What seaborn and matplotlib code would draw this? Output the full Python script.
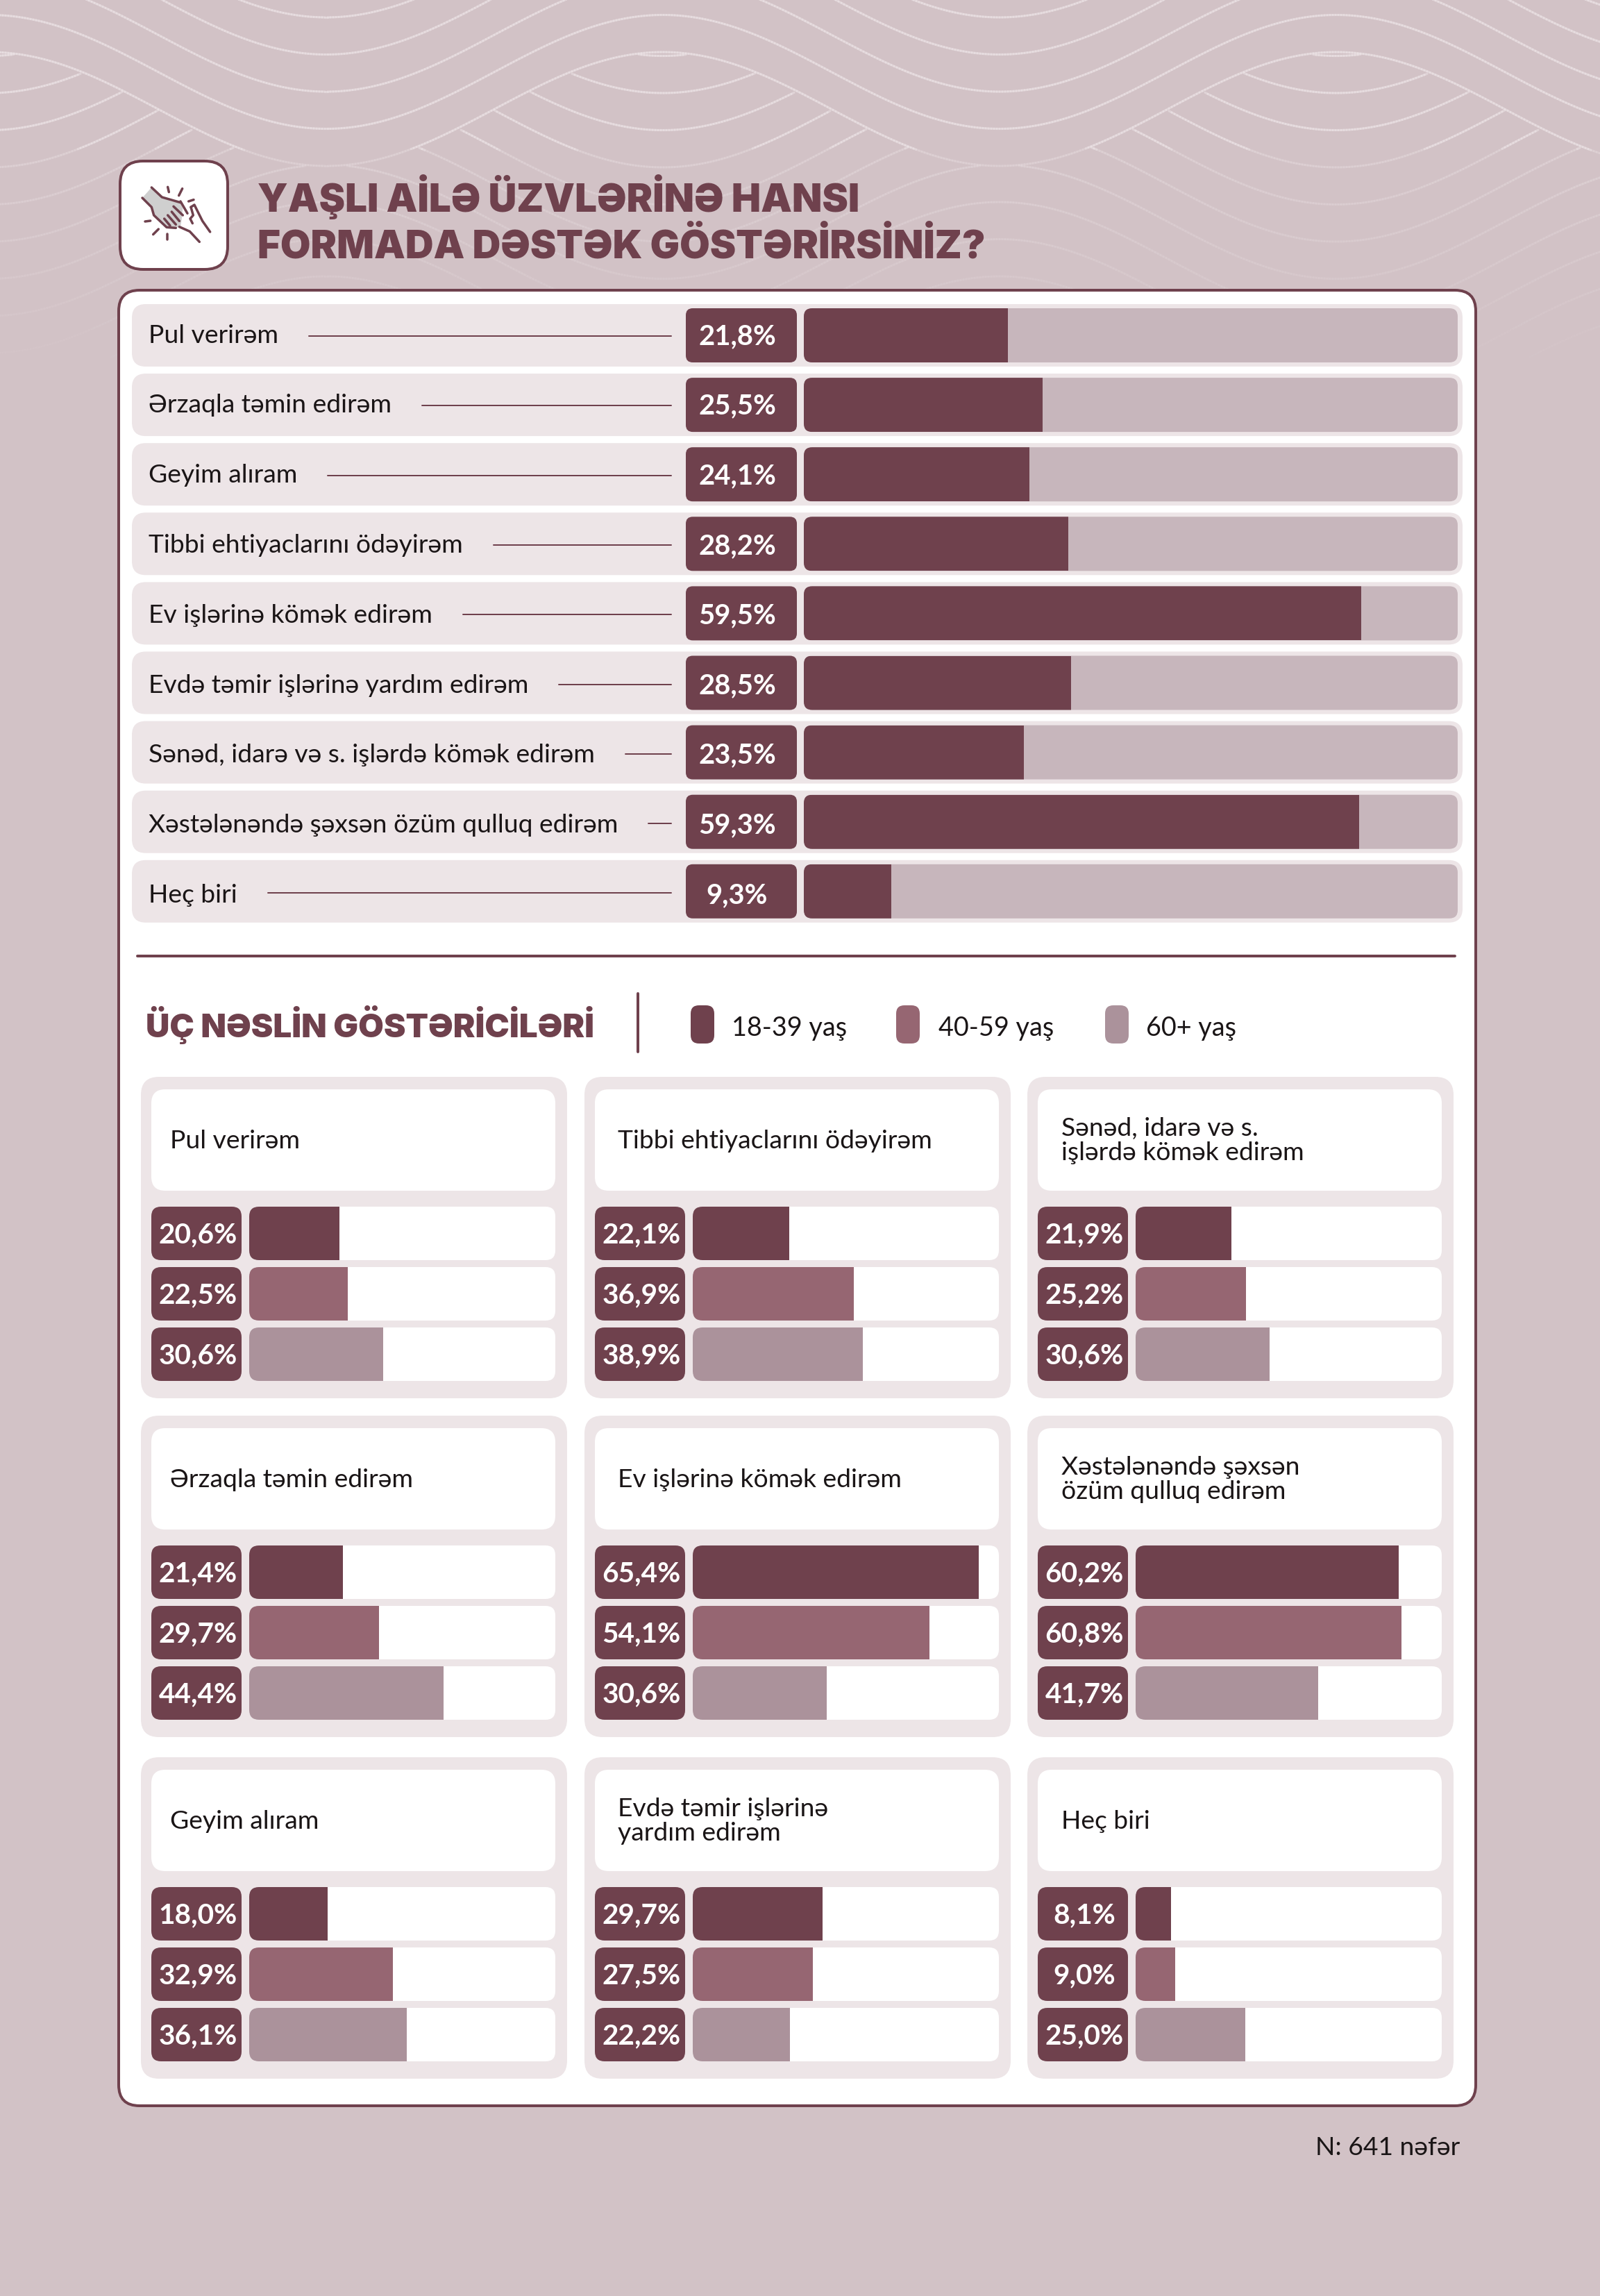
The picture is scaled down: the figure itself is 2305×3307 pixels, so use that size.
import numpy as np
import pandas as pd
import matplotlib
matplotlib.use('Agg')
import matplotlib.pyplot as plt
import seaborn as sns
from matplotlib.collections import LineCollection
from matplotlib.patches import FancyBboxPatch, Polygon

# ============================================================
# DATA
# ============================================================

main_labels = ['Pul verirəm', 'Ərzaqla təmin edirəm', 'Geyim alıram', 'Tibbi ehtiyaclarını ödəyirəm',
               'Ev işlərinə kömək edirəm', 'Evdə təmir işlərinə yardım edirəm',
               'Sənəd, idarə və s. işlərdə kömək edirəm', 'Xəstələnəndə şəxsən özüm qulluq edirəm', 'Heç biri']
main_values = [21.8, 25.5, 24.1, 28.2, 59.5, 28.5, 23.5, 59.3, 9.3]

age_groups = ['18-39 yaş', '40-59 yaş', '60+ yaş']
panel_titles = ['Pul verirəm', 'Tibbi ehtiyaclarını ödəyirəm', 'Sənəd, idarə və s.\nişlərdə kömək edirəm',
                'Ərzaqla təmin edirəm', 'Ev işlərinə kömək edirəm', 'Xəstələnəndə şəxsən\nözüm qulluq edirəm',
                'Geyim alıram', 'Evdə təmir işlərinə\nyardım edirəm', 'Heç biri']
values_18_39 = [20.6, 22.1, 21.9, 21.4, 65.4, 60.2, 18.0, 29.7, 8.1]
values_40_59 = [22.5, 36.9, 25.2, 29.7, 54.1, 60.8, 32.9, 27.5, 9.0]
values_60 = [30.6, 38.9, 30.6, 44.4, 30.6, 41.7, 36.1, 22.2, 25.0]

# ============================================================
# STYLE
# ============================================================

W, H, DPI = 2305, 3307, 200
BG = '#D2C2C6'
DARK = '#6F414D'
MID = '#966672'
LIGHT = '#AB929B'
ROW = '#EDE5E7'
TRACK = '#C7B6BC'
INK = '#1A1516'

sns.set_theme(style='white')
plt.rcParams['font.family'] = ['Lato', 'DejaVu Sans']

def pt(px):
    return px * 72 / DPI

fig = plt.figure(figsize=(W / DPI, H / DPI), dpi=DPI, facecolor=BG)
bg = fig.add_axes([0, 0, 1, 1], zorder=0)
bg.set_xlim(0, W)
bg.set_ylim(H, 0)
bg.axis('off')

def box(x0, y0, x1, y1, r, fc, ec='none', lw=0, z=2):
    p = FancyBboxPatch((x0, y0), x1 - x0, y1 - y0, boxstyle=f'round,pad=0,rounding_size={r}',
                       fc=fc, ec=ec, lw=pt(lw), zorder=z, transform=bg.transData)
    bg.add_patch(p)
    return p

def bar_axes(x0, y0, x1, y1):
    ax = fig.add_axes([x0 / W, 1 - y1 / H, (x1 - x0) / W, (y1 - y0) / H], zorder=1)
    ax.patch.set_alpha(0)
    return ax

def pct(v):
    return f'{v:.1f}'.replace('.', ',') + '%'

# ============================================================
# WAVE BACKGROUND
# ============================================================

xs = np.arange(-40, W + 40, 4.0)
P, X0, A, PITCH = 970, 955, 82, 53.5
wave = np.cos(2 * np.pi * (xs - X0) / P)
w0 = 75 + A - A * wave  # boundary wave, peaks at X0

def add_wave(ys):
    pts = np.column_stack([xs, ys]).reshape(-1, 1, 2)
    segs = np.concatenate([pts[:-1], pts[1:]], axis=1)
    segs = segs[~np.isnan(segs).any(axis=(1, 2))]
    if len(segs) == 0:
        return
    y = segs[:, 0, 1]
    fade = np.where(y < 215, 0.42, 0.2 * np.clip((560 - y) / 345, 0, 1))
    colors = np.tile(matplotlib.colors.to_rgba('#F3ECEE'), (len(segs), 1))
    colors[:, 3] = fade
    bg.add_collection(LineCollection(segs, colors=colors, linewidths=pt(3.2), zorder=1, capstyle='round'))

add_wave(w0)
for k in range(1, 10):
    add_wave(w0 - k * PITCH)
for k in range(-10, 14):
    ys = 134 - 164 + k * PITCH + A + A * wave
    add_wave(np.where(ys > w0 + 1, ys, np.nan))

# ============================================================
# HEADER
# ============================================================

box(173, 232, 328, 388, 33, 'white', DARK, 4, z=3)

def icon_xy(pts):
    return [(160 + u / 3, 220 + v / 3) for u, v in pts]

bg.add_patch(Polygon(icon_xy([(135, 195), (175, 150), (215, 190), (260, 210), (300, 215), (310, 240), (305, 290),
                              (300, 320), (270, 325), (240, 320), (190, 280), (175, 240)]),
                     fc='#CFCFCF', ec='none', zorder=4))
icon_lines = [
    [(135, 195), (175, 235), (185, 270), (240, 322), (280, 325)],
    [(175, 150), (220, 192), (265, 205), (300, 215)],
    [(300, 210), (330, 262)], [(230, 285), (255, 315)], [(245, 270), (280, 310)],
    [(262, 255), (295, 295)], [(270, 232), (310, 270)],
    [(345, 235), (360, 225), (395, 295), (428, 342)], [(345, 235), (355, 270), (342, 285), (352, 305)],
    [(295, 320), (340, 340), (382, 385)],
    [(245, 148), (250, 170)], [(308, 155), (293, 185)], [(335, 210), (357, 203)],
    [(147, 297), (170, 294)], [(182, 353), (205, 330)], [(242, 352), (242, 375)],
]
for line in icon_lines:
    lx, ly = zip(*icon_xy(line))
    bg.plot(lx, ly, color=DARK, lw=pt(3.5), zorder=5, solid_capstyle='round', solid_joinstyle='round')

bg.text(371, 305, 'YAŞLI AİLƏ ÜZVLƏRİNƏ HANSI', color=DARK, fontsize=20.3, family=['Inter', 'DejaVu Sans'],
        fontweight=900, zorder=3)
bg.text(371, 371, 'FORMADA DƏSTƏK GÖSTƏRİRSİNİZ?', color=DARK, fontsize=20.3, family=['Inter', 'DejaVu Sans'],
        fontweight=900, zorder=3)

# ============================================================
# MAIN PANEL
# ============================================================

box(171, 418, 2126, 3033, 30, 'white', DARK, 4, z=2)

PITCH_ROW = 100.1
label_texts = []
main_tracks = []
for i, (label, value) in enumerate(zip(main_labels, main_values)):
    top = 438 + i * PITCH_ROW
    box(190, top, 2107, top + 90, 20, ROW, z=3)
    box(988, top + 6, 1148, top + 84, 10, DARK, z=4)
    main_tracks.append(box(1158, top + 6, 2100, top + 84, 12, TRACK, z=4))
    label_texts.append(bg.text(214, top + 55.5 + i * 0.7, label, color=INK, fontsize=13.4, fontweight=400, zorder=5))
    bg.text(1062, top + 58 + i * 0.5, pct(value), color='white', fontsize=14.4, fontweight=700, ha='center', zorder=5)

fig.canvas.draw()
renderer = fig.canvas.get_renderer()
for i, t in enumerate(label_texts):
    end = bg.transData.inverted().transform(t.get_window_extent(renderer).get_points())[1, 0]
    y = 438 + i * PITCH_ROW + 46 + i * 0.2
    bg.plot([end + 44, 967], [y, y], color=DARK, lw=pt(2), zorder=5)

main_ax = bar_axes(1158, 432.95, 2100, 432.95 + 9 * PITCH_ROW)
main_df = pd.DataFrame({'label': main_labels, 'value': main_values})
sns.barplot(data=main_df, x='value', y='label', color=DARK, saturation=1, width=78 / PITCH_ROW, linewidth=0, ax=main_ax)
main_ax.set_xlim(0, 69.8)
main_ax.axis('off')
for bar, track in zip(main_ax.patches, main_tracks):
    bar.set_clip_path(track)

# ============================================================
# GENERATIONS SECTION
# ============================================================

bg.plot([198, 2096], [1377, 1377], color=DARK, lw=pt(4), zorder=3)
bg.text(210, 1494, 'ÜÇ NƏSLİN GÖSTƏRİCİLƏRİ', color=DARK, fontsize=17.1, family=['Inter', 'DejaVu Sans'],
        fontweight=900, zorder=3)
bg.plot([919, 919], [1431, 1515], color=DARK, lw=pt(4), zorder=3)

palette = dict(zip(age_groups, [DARK, MID, LIGHT]))
legend_x = [(995, 1054), (1291, 1352), (1592, 1651)]
for name, (sx, tx) in zip(age_groups, legend_x):
    box(sx, 1448, sx + 34, 1503, 12, palette[name], z=3)
    bg.text(tx, 1492, name, color=INK, fontsize=13.6, fontweight=400, zorder=3)

col_x = [203, 842, 1480]
text_x = [245, 890, 1529]
row_y = [1551, 2039, 2531]
for n, title in enumerate(panel_titles):
    c, r = n % 3, n // 3
    x0, y0 = col_x[c], row_y[r]
    box(x0, y0, x0 + 614, y0 + 463, 26, ROW, z=3)
    box(x0 + 15, y0 + 18, x0 + 597, y0 + 164, 20, 'white', z=4)
    bg.text(text_x[c], y0 + 92, title, color=INK, fontsize=13.4, fontweight=400, va='center',
            linespacing=1.07, zorder=5)
    vals = [values_18_39[n], values_40_59[n], values_60[n]]
    tracks = []
    for j, v in enumerate(vals):
        top = y0 + 187 + j * 87
        box(x0 + 15, top, x0 + 145, top + 77, 14, DARK, z=4)
        tracks.append(box(x0 + 156, top, x0 + 597, top + 77, 14, 'white', z=4))
        bg.text(x0 + 82, top + 52, pct(v), color='white', fontsize=14.6, fontweight=700, ha='center', zorder=5)
    df = pd.DataFrame({'group': age_groups, 'value': vals})
    ax = bar_axes(x0 + 156, y0 + 182, x0 + 597, y0 + 182 + 261)
    sns.barplot(data=df, x='value', y='group', hue='group', palette=palette, legend=False, saturation=1,
                width=77 / 87, linewidth=0, ax=ax)
    ax.set_xlim(0, 70)
    ax.axis('off')
    for bar, track in zip(ax.patches, tracks):
        bar.set_clip_path(track)

bg.text(2103, 3104, 'N: 641 nəfər', color=INK, fontsize=13.4, fontweight=400, ha='right', zorder=3)

fig.savefig('out.png', dpi=DPI, facecolor=BG)
